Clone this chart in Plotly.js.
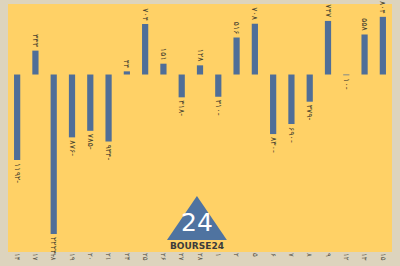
<!DOCTYPE html>
<html>
<head>
<meta charset="utf-8">
<script src="https://cdn.plot.ly/plotly-3.0.1.min.js"></script>
<style>html,body{margin:0;padding:0;background:#ddd4bd;}#chart{width:400px;height:266px;}</style>
</head>
<body>
<div id="chart"></div>
<script>
// Trading days (Persian day of month)
const categories = ["۱۴","۱۷","۱۸","۱۹","۲۰","۲۱","۲۴","۲۵","۲۶","۲۷","۲۸",
                    "۱","۲","۵","۶","۷","۸","۹","۱۲","۱۳","۱۵"];
const values = [-1192, 333, -2224, -876, -785, -934, 44, 704, 151, -318, 128,
                -310, 516, 708, -830, -690, -379, 747, -10, 558, 804];

const faDigits = "۰۱۲۳۴۵۶۷۸۹";
function toFa(n){ return String(n).replace(/[0-9]/g, d => faDigits[+d]); }
const labels = values.map(v => v < 0 ? toFa(Math.abs(v)) + "-" : toFa(v));

const trace = {
  type: "bar",
  x: categories,
  y: values,
  marker: {color: "#4f6e98"},
  text: labels,
  textposition: "outside",
  textangle: 90,
  cliponaxis: false,
  constraintext: "none",
  textfont: {family: "DejaVu Sans", size: 8, color: "#4a4430"},
  hoverinfo: "none"
};

const layout = {
  width: 400, height: 266,
  margin: {l: 8, r: 8, t: 4, b: 14},
  paper_bgcolor: "#ddd4bd",
  plot_bgcolor: "#ffd166",
  bargap: 0.66,
  showlegend: false,
  xaxis: {
    type: "category",
    tickangle: 90,
    tickfont: {family: "DejaVu Sans", size: 7, color: "#5a5548"},
    showgrid: false, zeroline: false, showline: false, ticks: "",
    automargin: false
  },
  yaxis: {
    range: [-2474, 983],
    showticklabels: false, showgrid: false, zeroline: false, showline: false,
    fixedrange: true
  },
  shapes: [
    {type: "path", xref: "paper", yref: "paper",
     path: "M 0.414 0.048 L 0.570 0.048 L 0.492 0.226 Z",
     fillcolor: "#4f73a0", line: {width: 0}, layer: "above"}
  ],
  annotations: [
    {xref: "paper", yref: "paper", x: 0.492, y: 0.052, yanchor: "bottom", text: "24", showarrow: false,
     font: {family: "DejaVu Sans", size: 25, color: "#ffffff"}},
    {xref: "paper", yref: "paper", x: 0.492, y: -0.004, yanchor: "bottom", text: "<b>BOURSE24</b>", showarrow: false,
     font: {family: "DejaVu Sans", size: 9, color: "#3b3b3b"}}
  ]
};

Plotly.newPlot("chart", [trace], layout, {displayModeBar: false, staticPlot: true});
</script>
</body>
</html>
